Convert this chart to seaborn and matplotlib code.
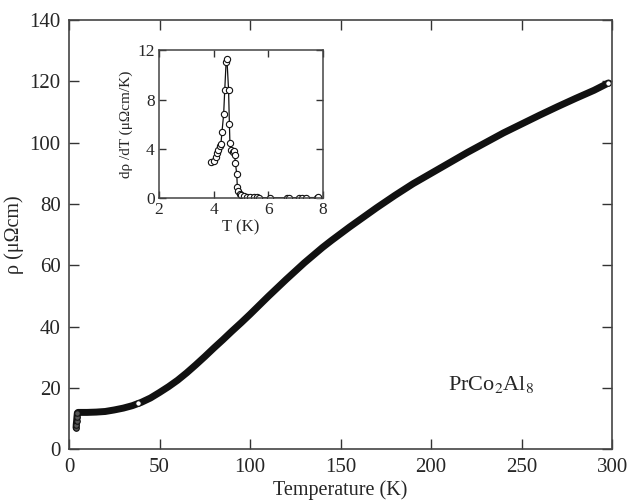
import numpy as np
import pandas as pd
import matplotlib
matplotlib.use("Agg")
import matplotlib.pyplot as plt
import seaborn as sns

# Main curve: resistivity vs temperature
temp = [3.9, 4.0, 4.2, 4.4, 4.6, 5, 10, 15, 20, 25, 30, 35, 40, 45, 50, 55,
        60, 65, 70, 75, 80, 85, 90, 95, 100, 105, 110, 115, 120, 125, 130,
        135, 140, 145, 150, 155, 160, 165, 170, 175, 180, 185, 190, 195, 200,
        210, 220, 230, 240, 250, 260, 270, 280, 290, 298]
rho = [7.0, 8.0, 9.2, 10.6, 11.8, 12.0, 12.0, 12.1, 12.3, 12.8, 13.4, 14.2,
       15.3, 16.7, 18.5, 20.4, 22.5, 24.9, 27.5, 30.2, 33.0, 35.7, 38.5, 41.2,
       44.0, 46.9, 49.8, 52.6, 55.4, 58.1, 60.8, 63.3, 65.8, 68.1, 70.3, 72.5,
       74.6, 76.7, 78.8, 80.8, 82.8, 84.7, 86.6, 88.3, 90.0, 93.4, 96.8, 100.0,
       103.2, 106.1, 109.0, 111.8, 114.5, 117.1, 119.5]
open_t = [38, 298]
open_rho = [15.0, 119.5]

# Inset: d(rho)/dT vs T
t_in = [3.92, 4.01, 4.08, 4.13, 4.18, 4.23, 4.27, 4.31, 4.37, 4.41, 4.46, 4.49,
        4.55, 4.58, 4.60, 4.64, 4.71, 4.75, 4.77, 4.80, 4.85, 4.87, 4.91, 4.96,
        5.02, 5.10, 5.22, 5.35, 5.47, 5.59, 5.67, 6.07, 6.68, 6.77, 7.13, 7.23,
        7.39, 7.78, 7.84]
drho = [2.94, 3.0, 3.37, 3.64, 3.9, 4.2, 4.4, 5.4, 6.8, 8.76, 11.05, 11.3,
        8.8, 6.06, 4.45, 3.9, 3.77, 3.83, 3.5, 2.88, 1.94, 0.94, 0.62, 0.35,
        0.24, 0.16, 0.10, 0.08, 0.08, 0.10, 0.05, 0.03, 0.03, 0.03, 0.05, 0.05,
        0.05, 0.05, 0.12]

sns.set_style("ticks")
plt.rcParams["font.family"] = ["Liberation Serif", "DejaVu Serif"]
plt.rcParams["mathtext.fontset"] = "stix"

fig = plt.figure(figsize=(6.33, 5.03), dpi=100)
ax = fig.add_axes([0.109, 0.107, 0.858, 0.853])

main_df = pd.DataFrame({"T": temp, "rho": rho})
sns.lineplot(data=main_df, x="T", y="rho", ax=ax, color="#111111", lw=5,
             sort=False, estimator=None, solid_capstyle="round")
ax.plot(open_t, open_rho, "o", ms=4, mfc="white", mec="#111111", mew=0.8)
ax.plot(temp[:5], rho[:5], "o", ms=4, mfc="#555555", mec="#111111", mew=0.8)

ax.set_xlim(0, 300)
ax.set_ylim(0, 140)
ax.set_xticks(np.arange(0, 301, 50))
ax.set_yticks(np.arange(0, 141, 20))
ax.tick_params(direction="in", top=True, right=True, length=7, width=1,
               labelsize=15, color="#333333", pad=6)
ax.set_xlabel("Temperature (K)", fontsize=14.5, labelpad=3)
ax.set_ylabel("ρ (μΩcm)", fontsize=14.5, labelpad=4)
for s in ax.spines.values():
    s.set_color("#444444")
    s.set_linewidth(1.2)
ax.text(233, 21, r"PrCo$_2$Al$_8$", fontsize=16, ha="center", va="center")

# Inset
axin = fig.add_axes([0.251, 0.606, 0.259, 0.294])
in_df = pd.DataFrame({"T": t_in, "d": drho})
sns.lineplot(data=in_df, x="T", y="d", ax=axin, color="#111111", lw=0.9,
             sort=False, estimator=None, marker="o", ms=4.5, mfc="white",
             mec="#111111", mew=0.8)
axin.set_xlim(2, 8)
axin.set_ylim(0, 12)
axin.set_xticks([2, 4, 6, 8])
axin.set_yticks([0, 4, 8, 12])
axin.tick_params(direction="in", top=True, right=True, length=5, width=1,
                 labelsize=12.5, color="#333333", pad=3)
axin.set_xlabel("T (K)", fontsize=12, labelpad=1)
axin.set_ylabel("dρ /dT (μΩcm/K)", fontsize=11, labelpad=3)
for s in axin.spines.values():
    s.set_color("#444444")
    s.set_linewidth(1.1)

fig.savefig("out.png", dpi=100)
